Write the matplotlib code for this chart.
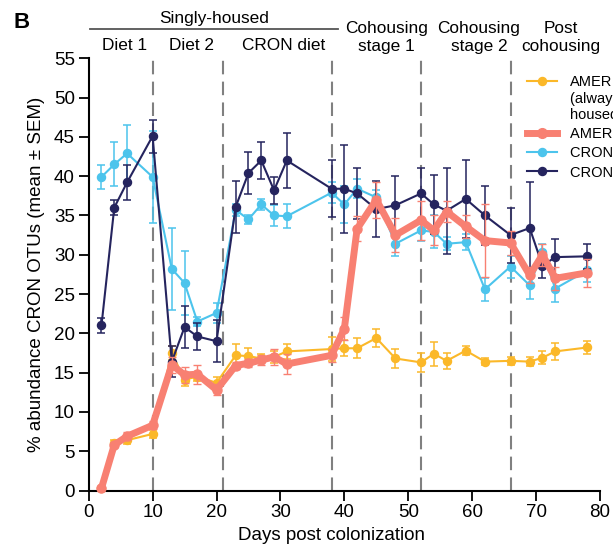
import matplotlib
matplotlib.use("Agg")
import matplotlib.pyplot as plt

plt.rcParams['font.family'] = ['Liberation Sans', 'DejaVu Sans']

# ---------------- data ----------------
days = [2, 4, 6, 10, 13, 15, 17, 20, 23, 25, 27, 29, 31, 38, 40, 42, 45, 48,
        52, 54, 56, 59, 62, 66, 69, 71, 73, 78]

amer_single = [0.3, 6.0, 6.4, 7.2, 17.5, 14.1, 14.5, 13.7, 17.2, 17.1, 16.8, 17.0,
               17.7, 18.0, 18.1, 18.1, 19.4, 16.8, 16.3, 17.4, 16.5, 17.8, 16.4,
               16.5, 16.4, 16.9, 17.7, 18.2]
amer_single_err = [0.2, 0.4, 0.5, 0.5, 0.9, 0.8, 0.6, 0.7, 1.4, 1.0, 0.6, 0.8,
                   1.0, 1.5, 1.0, 1.3, 1.2, 1.2, 1.2, 1.5, 1.0, 0.6, 0.4, 0.5,
                   0.6, 0.8, 1.1, 0.8]

amer_co = [0.3, 5.8, 6.9, 8.3, 16.0, 14.7, 14.8, 12.8, 15.9, 16.2, 16.6, 17.0,
           16.1, 17.2, 20.6, 33.3, 37.0, 32.5, 34.4, 33.1, 35.5, 33.6, 31.8,
           31.5, 27.4, 30.0, 27.0, 27.7]
amer_co_err = [0.2, 0.3, 0.5, 0.5, 1.0, 1.0, 1.2, 0.7, 0.5, 0.5, 0.6, 1.0,
               1.3, 0.8, 1.5, 1.6, 2.3, 2.2, 2.5, 1.9, 1.3, 1.5, 4.6, 1.5,
               1.0, 1.4, 1.5, 1.8]

cron_a = [39.9, 41.5, 42.9, 39.9, 28.2, 26.4, 21.5, 22.6, 35.7, 34.5, 36.4, 35.0,
          34.9, 37.9, 36.4, 38.4, 37.3, 31.4, 33.1, 32.9, 31.4, 31.6, 25.6,
          28.5, 26.1, 30.4, 25.7, 28.0]
cron_a_err = [1.5, 2.8, 3.6, 5.8, 5.2, 4.1, 0.6, 1.3, 0.8, 0.6, 0.7, 1.3,
              1.5, 1.3, 2.3, 1.2, 1.0, 1.5, 1.3, 2.1, 0.8, 1.0, 1.5, 1.4,
              1.7, 1.0, 1.7, 1.5]

cron_b = [21.0, 36.0, 39.2, 45.1, 16.4, 20.8, 19.6, 19.0, 36.1, 40.4, 42.0, 38.2,
          42.0, 38.4, 38.4, 37.8, 35.8, 36.3, 37.8, 36.4, 35.6, 37.1, 35.0,
          32.5, 33.4, 28.6, 29.7, 29.8]
cron_b_err = [1.0, 1.0, 2.2, 2.1, 2.0, 2.7, 1.7, 2.7, 3.3, 2.7, 2.4, 1.7,
              3.5, 3.6, 5.6, 3.3, 3.6, 3.7, 3.2, 3.7, 5.5, 5.0, 3.8, 3.5,
              5.9, 1.6, 2.3, 1.6]

phase_bounds = [10, 21, 38, 52, 66]
yticks = [0, 5, 10, 15, 20, 25, 30, 35, 40, 45, 50, 55]
xticks = [0, 10, 20, 30, 40, 50, 60, 70, 80]

c_yel = "#FBB829"
c_sal = "#F88072"
c_blu = "#4CC4EC"
c_nav = "#25245E"

# ---------------- figure ----------------
W, H = 613, 550
fig = plt.figure(figsize=(W / 100, H / 100), dpi=100)
x0, x1, yb, yt = 88.7, 600.0, 490.5, 58.3
ax = fig.add_axes([x0 / W, 1 - yb / H, (x1 - x0) / W, (yb - yt) / H])
ax.set_xlim(0, 80)
ax.set_ylim(0, 55)

for b in phase_bounds:
    ax.axvline(b, color="#808080", lw=1.5, ls=(0, (6.5, 3.5)), zorder=1)

def series(y, e, color, lw, ms, z, elw=1.1):
    ax.errorbar(days, y, yerr=e, color=color, lw=lw, marker="o", ms=ms,
                mec=color, mfc=color, elinewidth=elw, capsize=2.6,
                capthick=elw, zorder=z, clip_on=False)

series(amer_single, amer_single_err, c_yel, 1.5, 5.8, 3)
series(cron_a, cron_a_err, c_blu, 1.5, 5.8, 4)
series(cron_b, cron_b_err, c_nav, 1.5, 5.8, 5)
series(amer_co, amer_co_err, c_sal, 5.0, 6.5, 6, elw=1.0)

for s in ["top", "right"]:
    ax.spines[s].set_visible(False)
for s in ["left", "bottom"]:
    ax.spines[s].set_linewidth(1.5)
ax.set_xticks(xticks)
ax.set_yticks(yticks)
ax.tick_params(axis="both", length=7, width=1.3, labelsize=13.5, pad=3)
ax.set_xlabel("Days post colonization", fontsize=13.5, labelpad=2)
ax.xaxis.set_label_coords((331 - x0) / (x1 - x0), -0.085)
ax.set_ylabel("% abundance CRON OTUs (mean ± SEM)", fontsize=13.5, labelpad=6)

# ---------------- headers ----------------
def ay(py):
    return (yb - py) / (yb - yt)

def dx(px):
    return (px - x0) / (x1 - x0) * 80

xt = ax.get_xaxis_transform()
hs = 12.4
ax.text(dx(214), ay(22.7), "Singly-housed", transform=xt, ha="center",
        va="baseline", fontsize=hs)
ax.plot([dx(90), dx(338)], [ay(29), ay(29)], transform=xt, color="#555555",
        lw=1.3, clip_on=False)
ax.text(dx(124.5), ay(50), "Diet 1", transform=xt, ha="center", va="baseline", fontsize=hs)
ax.text(dx(191), ay(50), "Diet 2", transform=xt, ha="center", va="baseline", fontsize=hs)
ax.text(dx(283.5), ay(50), "CRON diet", transform=xt, ha="center", va="baseline", fontsize=hs)
for cx, l1, l2 in [(386.5, "Cohousing", "stage 1"), (479, "Cohousing", "stage 2"),
                   (560.5, "Post", "cohousing")]:
    ax.text(dx(cx), ay(33), l1, transform=xt, ha="center", va="baseline", fontsize=hs)
    ax.text(dx(cx), ay(51.5), l2, transform=xt, ha="center", va="baseline", fontsize=hs)

fig.text(13 / W, 1 - 28 / H, "B", fontsize=16, fontweight="bold", ha="left", va="baseline")

# ---------------- legend (manual) ----------------
def axx(px):
    return (px - x0) / (x1 - x0)

leg = [(c_yel, 1.5, 5.8, 81, ["AMER", "(always singly", "housed)"], [86, 102.5, 119]),
       (c_sal, 5.0, 7.0, 133, ["AMER (cohoused)"], [138]),
       (c_blu, 1.5, 5.8, 152, ["CRON (cohoused)"], [157]),
       (c_nav, 1.5, 5.8, 171, ["CRON (always singly housed)"], [176.7])]
for color, lw, ms, hy, lines, bls in leg:
    ax.plot([axx(527), axx(557)], [ay(hy), ay(hy)], color=color, lw=lw,
            transform=ax.transAxes, clip_on=False, zorder=10)
    ax.plot([axx(542)], [ay(hy)], marker="o", ms=ms, color=color,
            transform=ax.transAxes, clip_on=False, zorder=10)
    for t, bl in zip(lines, bls):
        ax.text(axx(570), ay(bl), t, transform=ax.transAxes, fontsize=10.5,
                ha="left", va="baseline")

fig.savefig("out.png", dpi=100)
